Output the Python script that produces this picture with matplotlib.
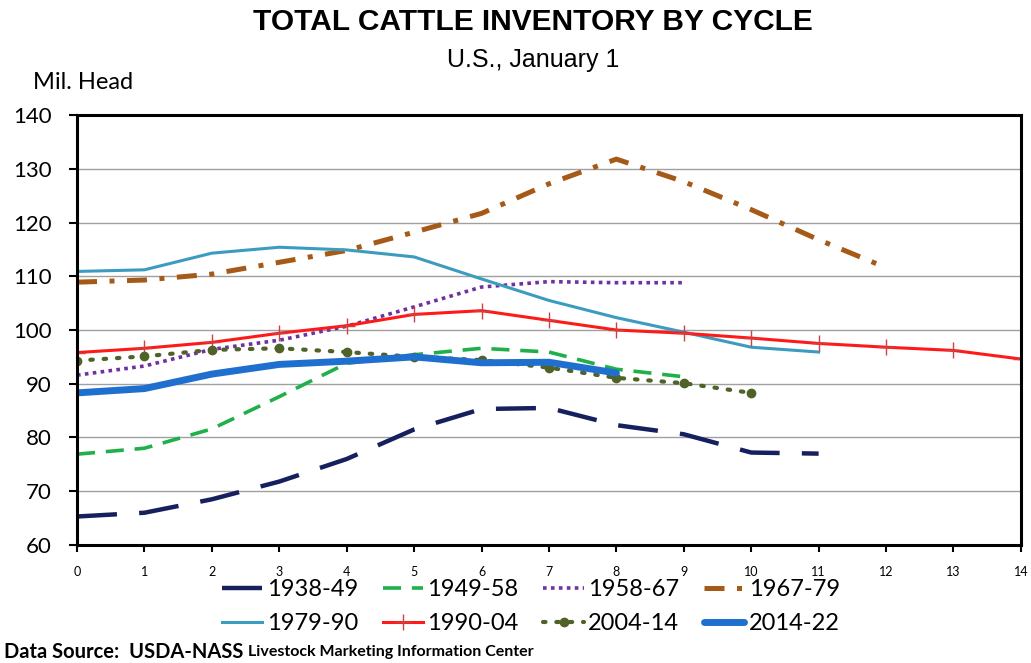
import matplotlib
matplotlib.use('Agg')
import matplotlib.pyplot as plt

plt.rcParams['font.family'] = ['Lato', 'DejaVu Sans']

# years into cycle
years = list(range(15))

c1938 = [65.3, 66.0, 68.5, 71.8, 76.0, 81.5, 85.3, 85.5, 82.3, 80.6, 77.2, 77.0]
c1949 = [76.9, 78.0, 81.6, 87.6, 93.8, 95.4, 96.6, 95.9, 92.7, 91.3]
c1958 = [91.6, 93.3, 96.4, 98.1, 100.7, 104.3, 108.0, 109.0, 108.8, 108.8]
c1967 = [108.9, 109.3, 110.4, 112.6, 114.8, 118.2, 121.7, 127.2, 131.8, 127.6, 122.4, 116.8, 111.6]
c1979 = [110.9, 111.2, 114.3, 115.4, 114.9, 113.6, 109.5, 105.5, 102.3, 99.6, 96.8, 95.9]
c1990 = [95.8, 96.6, 97.7, 99.4, 100.8, 102.9, 103.6, 101.8, 100.0, 99.4, 98.5, 97.5, 96.8, 96.2, 94.6]
c2004 = [94.3, 95.1, 96.3, 96.6, 95.9, 95.0, 94.4, 93.0, 91.1, 90.1, 88.3]
c2014 = [88.3, 89.1, 91.8, 93.6, 94.2, 95.0, 93.9, 94.0, 92.0]

fig = plt.figure(figsize=(10.31, 6.63), dpi=100)
ax = fig.add_axes([0.0747, 0.178, 0.9155, 0.6485])

h1, = ax.plot(years[:len(c1938)], c1938, color='#16205e', lw=3.2, dashes=(9, 5), label='1938-49')
h2, = ax.plot(years[:len(c1949)], c1949, color='#1fb04a', lw=2.6, dashes=(5, 3), label='1949-58')
h3, = ax.plot(years[:len(c1958)], c1958, color='#7030a0', lw=2.6, dashes=(1, 1.2), label='1958-67')
h4, = ax.plot(years[:len(c1967)], c1967, color='#a65a18', lw=3.6, dashes=(4, 2.5, 1, 2.5), label='1967-79')
h5, = ax.plot(years[:len(c1979)], c1979, color='#3b9cc0', lw=2.2, label='1979-90')
h6, = ax.plot(years[:len(c1990)], c1990, color='#ff1a1a', lw=2.2, marker='+', ms=11, mew=1, mec='#d04040', label='1990-04')
h7, = ax.plot(years[:len(c2004)], c2004, color='#4f6228', lw=3, dashes=(0.6, 2.6), dash_capstyle='round',
              marker='o', ms=6, label='2004-14')
h8, = ax.plot(years[:len(c2014)], c2014, color='#1f6fcf', lw=5, solid_capstyle='round', label='2014-22')

ax.set_xlim(0, 14)
ax.set_ylim(60, 140)
ax.set_xticks(years)
ax.set_yticks(range(60, 141, 10))
ax.tick_params(axis='x', labelsize=9, length=5, width=1.5, pad=10, direction='out')
ax.tick_params(axis='y', labelsize=16, length=6, width=1.5, pad=12, direction='out')
ax.grid(axis='y', color='#a0a0a0', lw=1)
ax.set_axisbelow(True)
for s in ax.spines.values():
    s.set_linewidth(2.2)
    s.set_color('black')

fig.text(0.517, 0.967, 'TOTAL CATTLE INVENTORY BY CYCLE', ha='center', va='center',
         fontsize=21.5, fontweight='bold', family='Liberation Sans')
fig.text(0.517, 0.909, 'U.S., January 1', ha='center', va='center', fontsize=18, family='Liberation Sans')
fig.text(0.032, 0.876, 'Mil. Head', ha='left', va='center', fontsize=17)

# row-wise order like the original legend
order = [h1, h5, h2, h6, h3, h7, h4, h8]
leg = fig.legend(handles=order, ncol=4, loc='center',
                 bbox_to_anchor=(0.515, 0.0845), frameon=False, fontsize=17,
                 handlelength=1.7, handletextpad=0.2, columnspacing=1.05, labelspacing=0.55)

t1 = fig.text(0.004, 0.017, 'Data Source:  USDA-NASS ', ha='left', va='center', fontsize=14.5, fontweight='bold')
fig.canvas.draw()
bb = t1.get_window_extent()
fig.text(bb.x1 / fig.bbox.width, 0.017, 'Livestock Marketing Information Center', ha='left', va='center',
         fontsize=11.5, fontweight='bold')

fig.savefig('out.png', dpi=100)
